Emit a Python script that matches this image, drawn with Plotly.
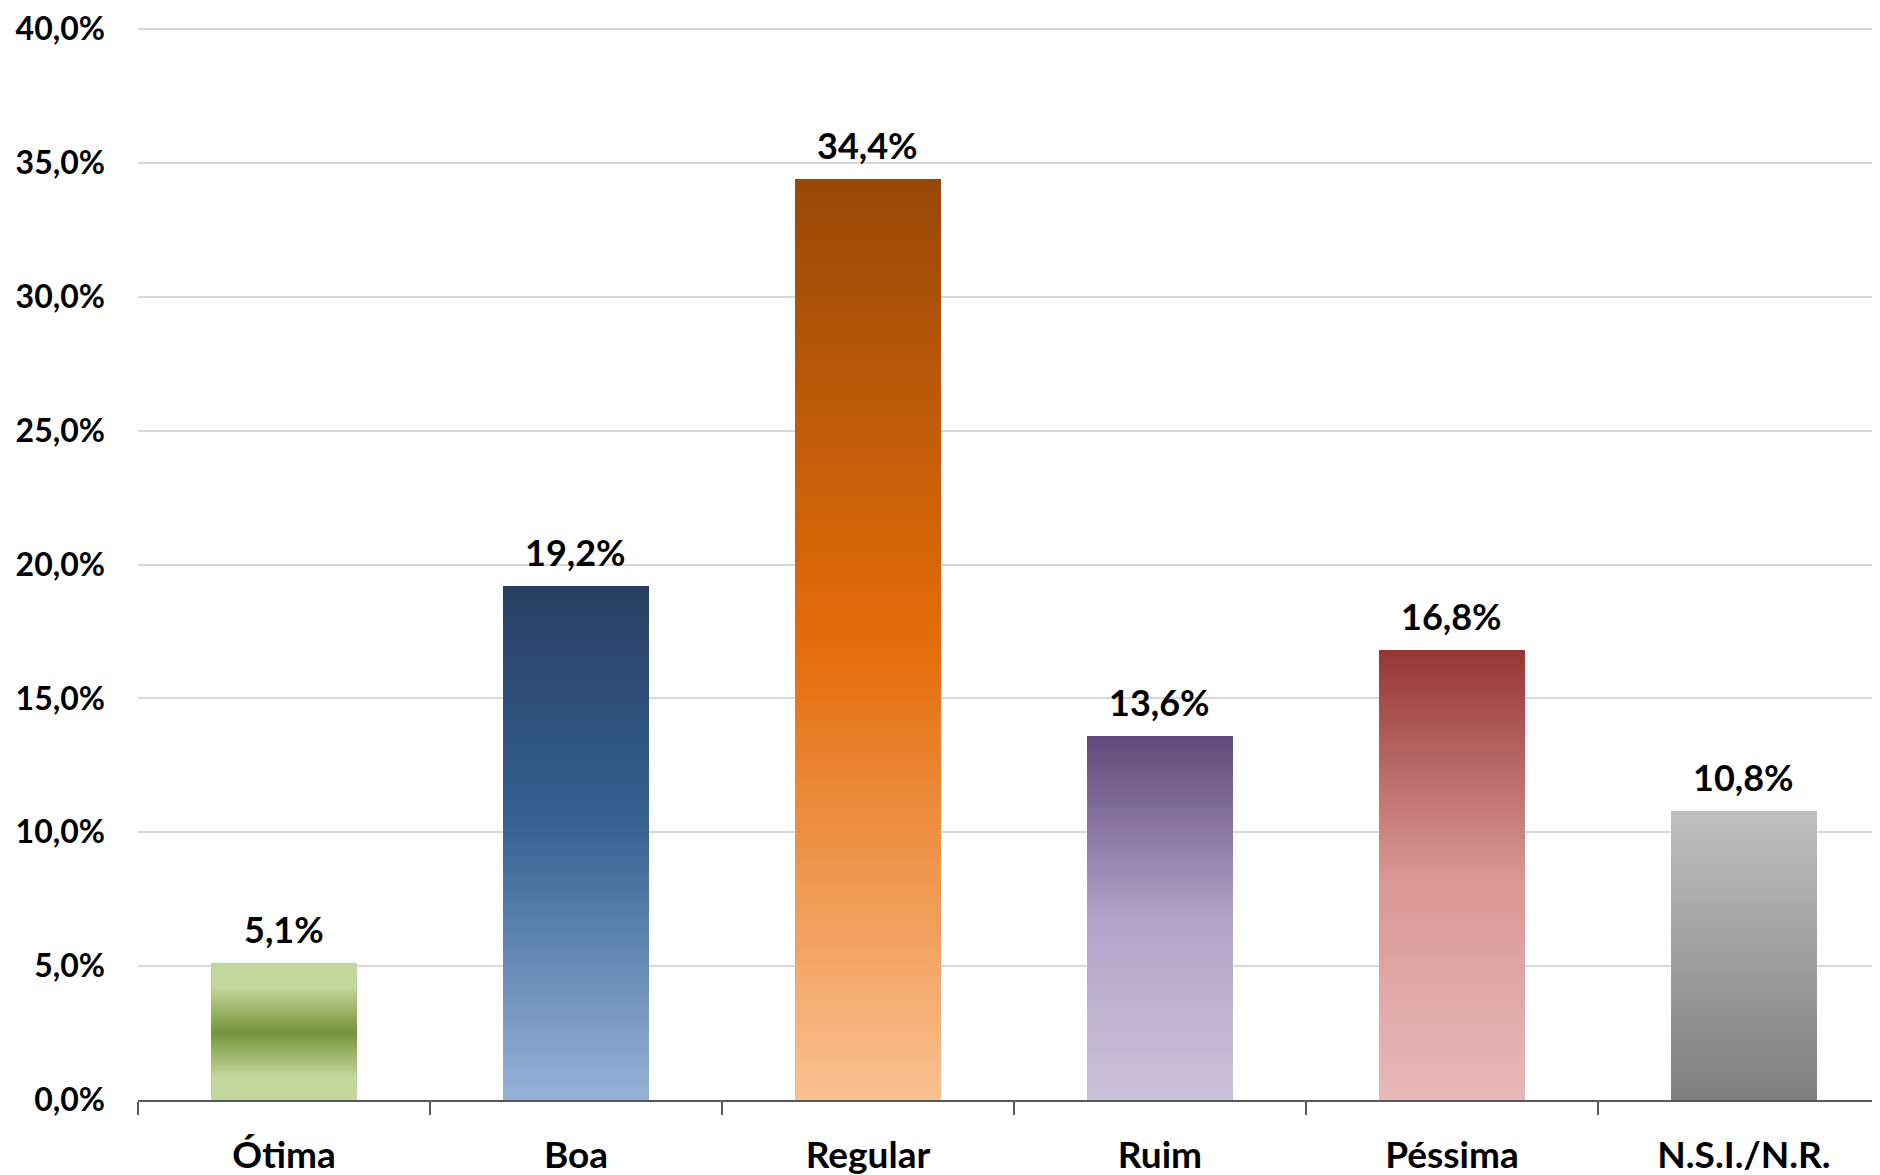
import plotly.graph_objects as go

# ---- data ----
categories = ["Ótima", "Boa", "Regular", "Ruim", "Péssima", "N.S.I./N.R."]
values = [5.1, 19.2, 34.4, 13.6, 16.8, 10.8]
y_ticks = [0, 5, 10, 15, 20, 25, 30, 35, 40]
y_tick_labels = [("%.1f%%" % v).replace(".", ",") for v in y_ticks]
value_labels = [("%.1f%%" % v).replace(".", ",") for v in values]

# ---- styles: vertical gradient stops (position from bottom, colour) ----
gradients = [
    [(0, "#C3D69B"), (0.17, "#C3D69B"), (0.5, "#77933C"), (0.83, "#C3D69B"), (1, "#C3D69B")],
    [(0, "#95B3D7"), (0.55, "#366092"), (1, "#274062")],
    [(0, "#FAC090"), (0.5, "#E46C0A"), (1, "#984807")],
    [(0, "#CCC1DA"), (0.5, "#B3A2C7"), (1, "#5F497A")],
    [(0, "#E6B9B8"), (0.5, "#D99694"), (1, "#953735")],
    [(0, "#7F7F7F"), (1, "#BFBFBF")],
]


def hex2rgb(h):
    h = h.lstrip("#")
    return tuple(int(h[i:i + 2], 16) for i in (0, 2, 4))


def interp(stops, t):
    for (p0, c0), (p1, c1) in zip(stops[:-1], stops[1:]):
        if p0 <= t <= p1:
            f = 0 if p1 == p0 else (t - p0) / (p1 - p0)
            a, b = hex2rgb(c0), hex2rgb(c1)
            r = [round(a[i] + (b[i] - a[i]) * f) for i in range(3)]
            return "rgb(%d,%d,%d)" % tuple(r)
    return stops[-1][1]


N = 120
fig = go.Figure()
for k in range(N):
    t = (k + 0.5) / N
    fig.add_trace(go.Bar(
        x=categories,
        y=[v / N for v in values],
        width=0.5,
        marker=dict(color=[interp(g, t) for g in gradients], line=dict(width=0)),
        hoverinfo="skip",
        showlegend=False,
    ))

font_family = "Lato"

for c, v, lab in zip(categories, values, value_labels):
    fig.add_annotation(
        x=c, y=v, text=lab,
        showarrow=False, yanchor="bottom", yshift=10,
        font=dict(family=font_family, size=36, color="black", weight="bold"),
    )

# page body has an 8px margin; shrink the figure so it ends at the window edge
fig.update_layout(
    width=1872, height=1167,
    margin=dict(l=130, r=0, t=20, b=75),
    barmode="stack", bargap=0.5,
    plot_bgcolor="white", paper_bgcolor="white",
    template="none",
    font=dict(family=font_family, size=32, color="black", weight="bold"),
)
fig.update_xaxes(
    type="category", range=[-0.5, 5.466], automargin=False,
    showline=True, linecolor="#595959", linewidth=2,
    ticks="outside", tickson="boundaries", ticklen=13, tickwidth=1.5, tickcolor="#595959",
    showgrid=False, ticklabelstandoff=22,
    tickfont=dict(family=font_family, size=37, color="black", weight="bold"),
)
fig.update_yaxes(
    range=[0, 40.04], tickvals=y_ticks, ticktext=y_tick_labels,
    automargin=False, showline=False, zeroline=False,
    showgrid=True, gridcolor="#D9D9D9", gridwidth=2,
    ticks="", ticklabelstandoff=32,
    tickfont=dict(family=font_family, size=32, color="black", weight="bold"),
)

fig.write_html("out.html")
